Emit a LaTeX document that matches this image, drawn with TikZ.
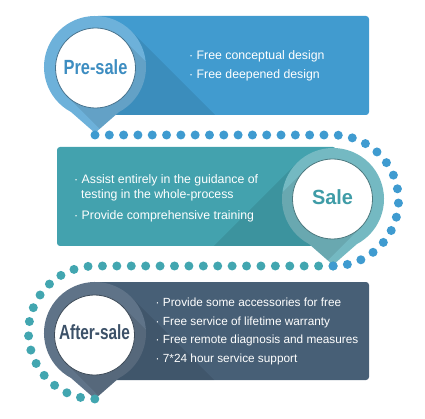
\documentclass[tikz,border=0pt]{standalone}
\usepackage{fontspec}
\usepackage{graphicx}
\setmainfont{Liberation Sans}
\usetikzlibrary{calc}
\definecolor{bbox}{HTML}{419BCF}
\definecolor{bring}{HTML}{6DB1DA}
\definecolor{btext}{HTML}{3D8DC1}
\definecolor{tbox}{HTML}{43A2AE}
\definecolor{tring}{HTML}{74B9C2}
\definecolor{ttext}{HTML}{3F9CA7}
\definecolor{sbox}{HTML}{475F76}
\definecolor{sring}{HTML}{5F7388}
\definecolor{stext}{HTML}{3C5168}
\definecolor{dotblue}{HTML}{3F9BD0}
\definecolor{dotteal}{HTML}{42A6B0}
\tikzset{
  body/.style={text=white, anchor=base west, inner sep=0pt, font=\fontsize{12.3}{15}\selectfont},
  bodysm/.style={body, font=\fontsize{11.8}{14}\selectfont},
  title/.style={anchor=base, inner sep=0pt, font=\fontsize{20.5}{24}\selectfont\bfseries},
  dotline/.style={line width=9pt, line cap=round},
  panel/.style={rounded corners=3pt},
  castshadow/.style={black, opacity=0.09},
}
% #1 name, #2 x, #3 y (ring centre), #4 ring colour, #5 sign of shadow direction, #6 inner x, #7 inner y
\newcommand\drawpin[7]{%
  \coordinate (#1) at (#2,#3);
  \coordinate (#1tip) at (#2,{#3+66});
  \coordinate (#1in) at (#6,#7);
  \fill[#4] ($(#1)+(118:51)$) arc[start angle=118, end angle=422, radius=51] -- (#1tip) -- cycle;
  \begin{scope}
    \clip ($(#1)+(118:51)$) arc[start angle=118, end angle=422, radius=51] -- (#1tip) -- cycle;
    \fill[castshadow] ($(#1in)+({90-135*#5}:40)$) -- ++({200*#5},200)
      -- ($(#1in)+({270-135*#5}:40)+({200*#5},200)$) -- ($(#1in)+({270-135*#5}:40)$) -- cycle;
  \end{scope}
  \fill[white, draw=#4!65!black, line width=0.8pt] (#1in) circle[radius=40];
}
\begin{document}
\begin{tikzpicture}[x=1pt,y=-1pt]
\useasboundingbox (0,0) rectangle (425,419);
% panels
\fill[bbox, panel] (95,16) rectangle (369,115);
\fill[tbox, panel] (57,147) rectangle (336,246);
\fill[sbox, panel] (95,282) rectangle (369,380);
% cast shadows of the pins on the panels
\coordinate (c1) at (95,67);
\coordinate (c2) at (333,199);
\coordinate (c3) at (95,333);
\begin{scope}
  \clip[panel] (95,16) rectangle (369,115);
  \fill[castshadow] ($(c1)+(-45:51)$) -- ++(200,200) -- ($(c1)+(135:51)+(200,200)$) -- ($(c1)+(135:51)$) -- cycle;
\end{scope}
\begin{scope}
  \clip[panel] (57,147) rectangle (336,246);
  \fill[castshadow] ($(c2)+(225:51)$) -- ++(-200,200) -- ($(c2)+(45:51)+(-200,200)$) -- ($(c2)+(45:51)$) -- cycle;
\end{scope}
\begin{scope}
  \clip[panel] (95,282) rectangle (369,380);
  \fill[castshadow] ($(c3)+(-45:51)$) -- ++(200,200) -- ($(c3)+(135:51)+(200,200)$) -- ($(c3)+(135:51)$) -- cycle;
\end{scope}
% pins
\drawpin{p1}{95}{67}{bring}{1}{95.5}{68}
\drawpin{p2}{333}{199}{tring}{-1}{332.5}{199}
\drawpin{p3}{95}{333}{sring}{1}{94.5}{335}
% dotted trails
\coordinate (d1) at (95,135);
\coordinate (d2) at (333,135);
\coordinate (d3) at (333,266);
\coordinate (d4) at (95,266);
\draw[dotline, dotteal, dash pattern=on 0pt off 14.41pt] (d3) -- (d4) arc[start angle=-90, end angle=-270, radius=66.5];
\draw[dotline, dotblue, dash pattern=on 0pt off 14.31pt] (d1) -- (d2) arc[start angle=-90, end angle=90, radius=65.5];
% titles
\node[title, text=btext] (t1) at (95.5,74.3) {\scalebox{0.80}[1]{Pre-sale}};
\node[title, text=ttext] (t2) at (332.5,205) {\scalebox{0.97}[1]{Sale}};
\node[title, text=stext] (t3) at (94.5,339.3) {\scalebox{0.75}[1]{After-sale}};
% texts
\node[body] (a1) at (189,60) {· Free conceptual design};
\node[body] (a2) at (189,79) {· Free deepened design};
\node[body] (b1) at (74,183.3) {· Assist entirely in the guidance of};
\node[body] (b2) at (81,198.3) {testing in the whole-process};
\node[body] (b3) at (74,219.3) {· Provide comprehensive training};
\node[bodysm] (e1) at (155.5,306) {· Provide some accessories for free};
\node[bodysm] (e2) at (155.5,325) {· Free service of lifetime warranty};
\node[bodysm] (e3) at (155.5,343.3) {· Free remote diagnosis and measures};
\node[bodysm] (e4) at (155.5,362.3) {· 7*24 hour service support};
\end{tikzpicture}
\end{document}
